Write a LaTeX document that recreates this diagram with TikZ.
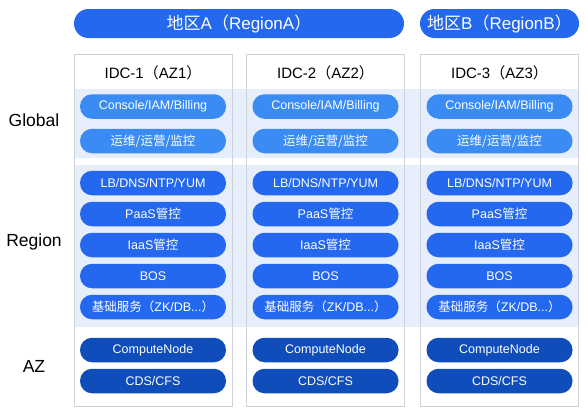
\documentclass[tikz,border=0pt]{standalone}
\usepackage{fontspec}
\setmainfont{Liberation Sans}
\newfontfamily\cjk{Noto Sans CJK SC}
\definecolor{bandblue}{HTML}{E7EEFB}
\definecolor{lineg}{HTML}{CDD1D8}
\definecolor{globblue}{HTML}{3A8CF4}
\definecolor{regblue}{HTML}{2468F0}
\definecolor{azblue}{HTML}{0F4DBA}
\tikzset{
  pill/.style={rounded corners=12pt,text=white,minimum width=146pt,minimum height=24.5pt,
    inner sep=0pt,font=\fontsize{12.5}{12.5}\selectfont},
  banner/.style={rounded corners=14.5pt,fill=regblue,text=white,minimum height=29pt,
    inner sep=0pt,font=\fontsize{17}{17}\selectfont},
  rowlabel/.style={font=\fontsize{17.5}{17.5}\selectfont}
}
\begin{document}
\begin{tikzpicture}[x=1pt,y=-1pt]
  \useasboundingbox (0,0) rectangle (588,408);

  % light bands behind the global and region rows
  \fill[bandblue] (74,89) rectangle (579,158);
  \fill[bandblue] (74,165) rectangle (579,327);

  \node[banner,minimum width=330pt] (ra) at (239,23.5) {{\cjk 地区}A{\cjk （}RegionA{\cjk ）}};
  \node[banner,minimum width=159pt] (rb) at (499.5,23.5) {{\cjk 地区}B{\cjk （}RegionB{\cjk ）}};

  \begin{scope}[every node/.style={rowlabel}]
    \node (global) at (34,120) {Global};
    \node (region) at (34,242) {Region};
    \node (az)     at (34,366) {AZ};
  \end{scope}

  \foreach \x/\i in {153/1,325.5/2,499.5/3} {
    \node[draw=lineg,line width=0.6pt,minimum width=158pt,minimum height=352pt] (idc\i) at (\x,230) {};
    \node[font=\fontsize{15}{15}\selectfont] (t\i) at (\x,73) {IDC-\i{\cjk （}AZ\i{\cjk ）}};
    \begin{scope}[every node/.style={pill,fill=globblue}]
      \node (con\i) at (\x,106.5) {Console/IAM/Billing};
      \node (ops\i) at (\x,141)   {\cjk 运维/运营/监控};
    \end{scope}
    \begin{scope}[every node/.style={pill,fill=regblue}]
      \node (lb\i)   at (\x,183) {LB/DNS/NTP/YUM};
      \node (paas\i) at (\x,214) {PaaS{\cjk 管控}};
      \node (iaas\i) at (\x,245) {IaaS{\cjk 管控}};
      \node (bos\i)  at (\x,276) {BOS};
      \node (base\i) at (\x,307) {{\cjk 基础服务（}ZK/DB...{\cjk ）}};
    \end{scope}
    \begin{scope}[every node/.style={pill,fill=azblue}]
      \node (cn\i)  at (\x,350) {ComputeNode};
      \node (cds\i) at (\x,381) {CDS/CFS};
    \end{scope}
  }

\end{tikzpicture}
\end{document}
